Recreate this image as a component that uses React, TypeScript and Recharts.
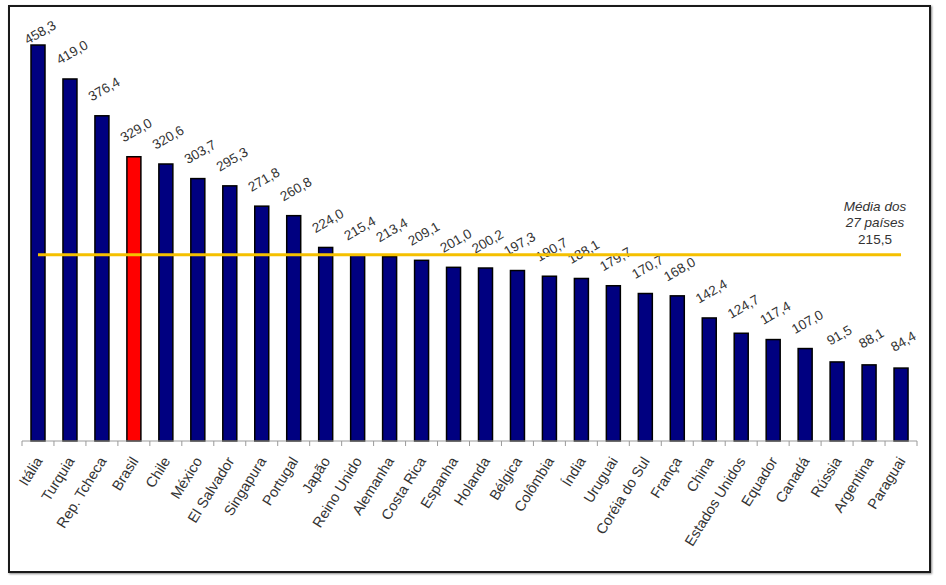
import React from "react";
import { BarChart, Bar, XAxis, YAxis, Cell, ReferenceLine } from "recharts";

const categories = [
  "Itália", "Turquia", "Rep. Tcheca", "Brasil", "Chile", "México", "El Salvador",
  "Singapura", "Portugal", "Japão", "Reino Unido", "Alemanha", "Costa Rica", "Espanha",
  "Holanda", "Bélgica", "Colômbia", "Índia", "Uruguai", "Coréia do Sul", "França",
  "China", "Estados Unidos", "Equador", "Canadá", "Rússia", "Argentina", "Paraguai",
];
const values = [
  458.3, 419.0, 376.4, 329.0, 320.6, 303.7, 295.3, 271.8, 260.8, 224.0, 215.4, 213.4,
  209.1, 201.0, 200.2, 197.3, 190.7, 188.1, 179.7, 170.7, 168.0, 142.4, 124.7, 117.4,
  107.0, 91.5, 88.1, 84.4,
];
const highlight = "Brasil";
const averageValue = 215.5;
const averageLines = ["Média dos", "27 países"];

const data = categories.map((name, i) => ({ name, value: values[i] }));

const W = 946;
const H = 585;
const M_LEFT = 22;
const M_RIGHT = 29;
const M_TOP = 9;
const AXIS_H = 144;
const BAND = (W - M_LEFT - M_RIGHT) / categories.length;
const FONT = "'Liberation Sans', Arial, sans-serif";
const TEXT = "#333333";
const VALUE_ANGLE = -30;

const fmt = (v: number) => Number(v).toFixed(1).replace(".", ",");

const CategoryTick = (props: any) => {
  const { x, y, payload, index } = props;
  const tx = x + 5;
  const ty = y + 20;
  const last = index === categories.length - 1;
  return (
    <g>
      <line x1={x - BAND / 2} y1={y} x2={x - BAND / 2} y2={y + 5} stroke="#9a9a9a" strokeWidth={1} />
      {last && (
        <line x1={x + BAND / 2} y1={y} x2={x + BAND / 2} y2={y + 5} stroke="#9a9a9a" strokeWidth={1} />
      )}
      <g transform={`translate(${tx}, ${ty}) rotate(-58)`}>
        <text x={0} y={0} textAnchor="end" fontSize={14.5} fontFamily={FONT} fill={TEXT}>
          {payload.value}
        </text>
      </g>
    </g>
  );
};

const BarWithLabel = (props: any) => {
  const x = Number(props.x);
  const y = Number(props.y);
  const width = Number(props.width);
  const height = Number(props.height);
  const value = props.payload ? props.payload.value : props.value;
  const name = props.payload ? props.payload.name : "";
  const cx = x + width / 2 + 2;
  const cy = Math.max(y - 27, 32);
  return (
    <g>
      <rect
        x={x}
        y={y}
        width={width}
        height={height}
        fill={name === highlight ? "#ff0000" : "#000080"}
        stroke="#000000"
        strokeWidth={1.5}
      />
      <text
        x={cx}
        y={cy + 5}
        transform={`rotate(${VALUE_ANGLE}, ${cx}, ${cy})`}
        textAnchor="middle"
        fontSize={13.5}
        fontFamily={FONT}
        fill={TEXT}
      >
        {fmt(value)}
      </text>
    </g>
  );
};

const AverageLabel = (props: any) => {
  const { viewBox } = props;
  const cx = viewBox.x + viewBox.width - 26;
  const y = viewBox.y;
  return (
    <g fontFamily={FONT} fontSize={13.5} fill={TEXT} textAnchor="middle">
      <text x={cx} y={y - 44} fontStyle="italic">{averageLines[0]}</text>
      <text x={cx} y={y - 28} fontStyle="italic">{averageLines[1]}</text>
      <text x={cx} y={y - 11}>{fmt(averageValue)}</text>
    </g>
  );
};

export default function App() {
  return (
    <div style={{ position: "absolute", left: 0, top: 0, width: W, height: H, background: "#fff" }}>
      <div
        style={{
          position: "absolute",
          left: 8,
          top: 5,
          width: 923,
          height: 568,
          boxSizing: "border-box",
          border: "2px solid #1a1a1a",
          boxShadow: "1px 1px 2px #888",
        }}
      />
      <div style={{ position: "absolute", left: 0, top: 0 }}>
        <BarChart
          width={W}
          height={H}
          data={data}
          margin={{ top: M_TOP, right: M_RIGHT, bottom: 0, left: M_LEFT }}
          barCategoryGap={0}
        >
          <XAxis
            dataKey="name"
            interval={0}
            height={AXIS_H}
            tickSize={0}
            tickMargin={0}
            axisLine={{ stroke: "#9a9a9a", strokeWidth: 1 }}
            tick={<CategoryTick />}
          />
          <YAxis hide domain={[0, 500]} />
          <Bar dataKey="value" barSize={14} shape={<BarWithLabel />} isAnimationActive={false}>
            {data.map((d) => (
              <Cell key={d.name} fill={d.name === highlight ? "#ff0000" : "#000080"} />
            ))}
          </Bar>
          <ReferenceLine
            segment={[
              { x: categories[0], y: averageValue },
              { x: categories[categories.length - 1], y: averageValue },
            ]}
            stroke="#f5c000"
            strokeWidth={3}
            label={<AverageLabel />}
          />
        </BarChart>
      </div>
    </div>
  );
}
